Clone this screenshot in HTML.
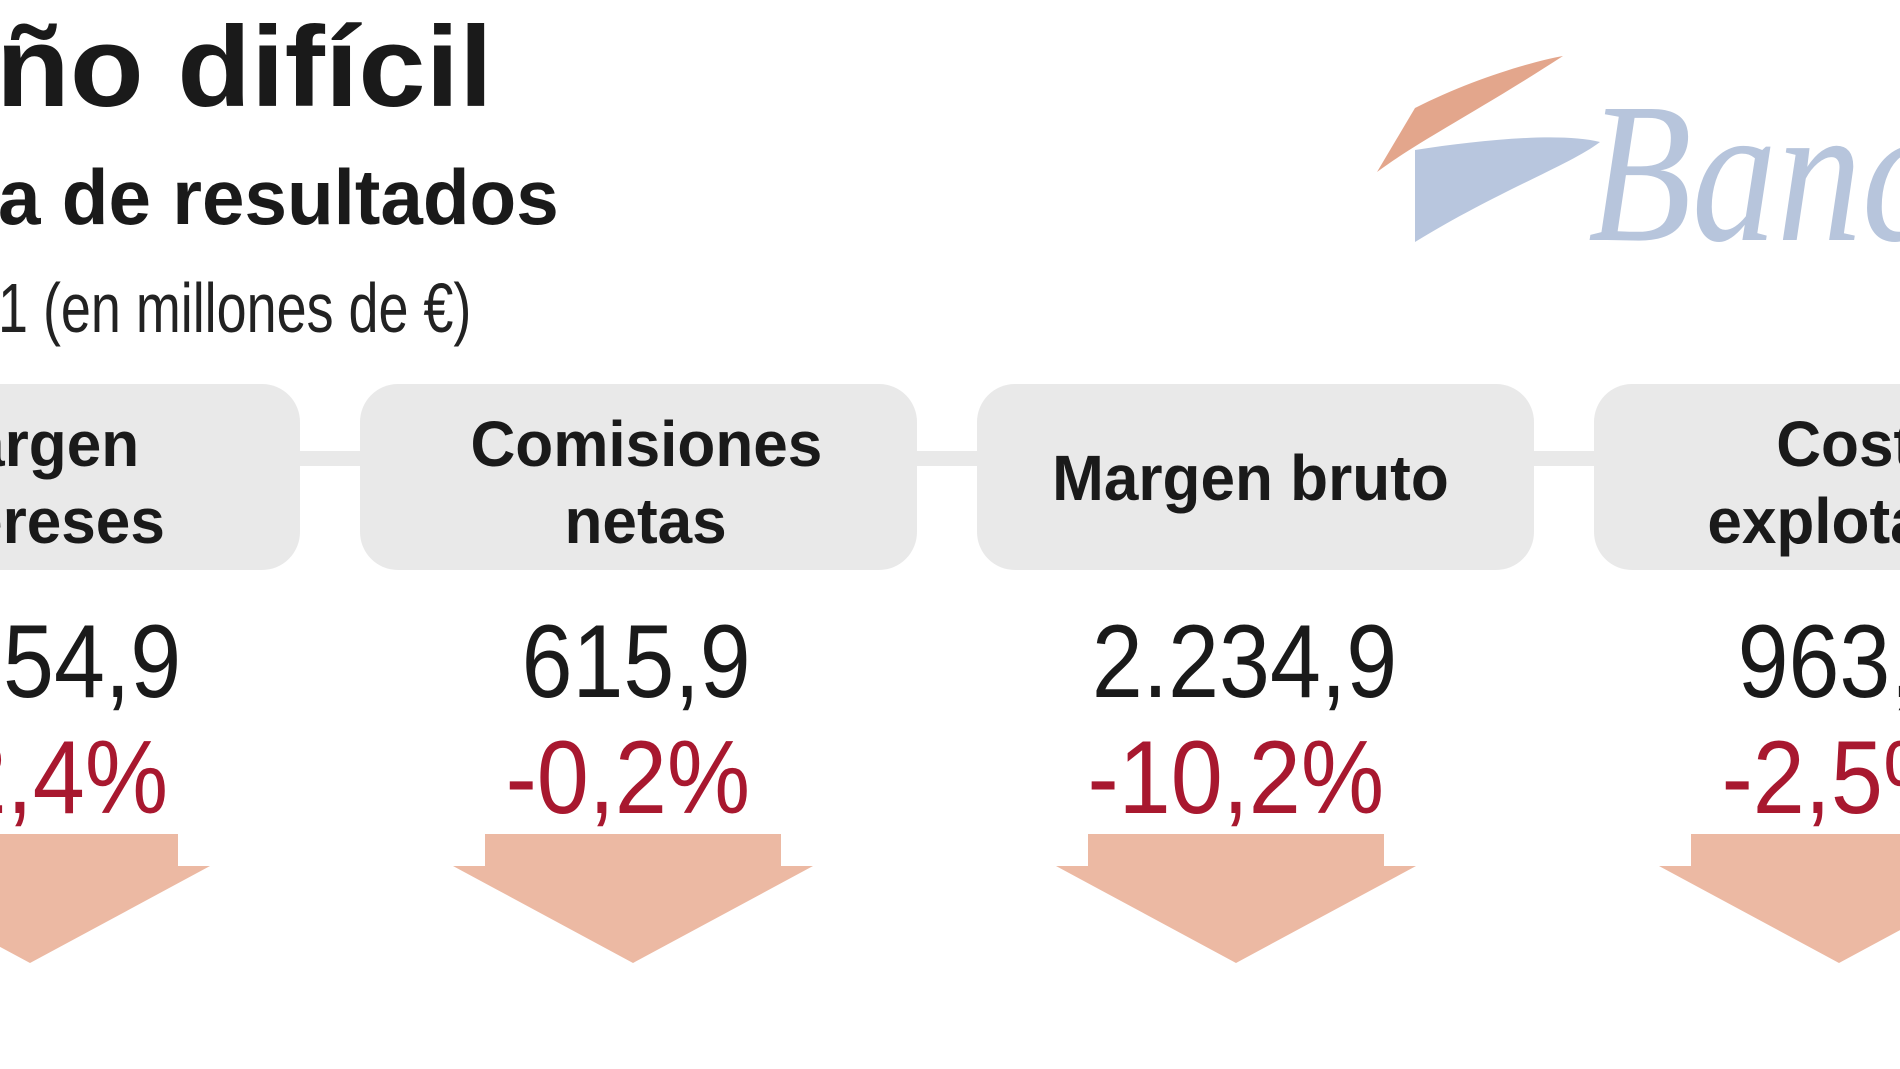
<!DOCTYPE html>
<html><head><meta charset="utf-8">
<style>
html,body{margin:0;padding:0;background:#fff;}
body{width:1900px;height:1069px;position:relative;overflow:hidden;font-family:"Liberation Sans",sans-serif;color:#1a1a1a;}
.t{position:absolute;white-space:nowrap;transform-origin:0 0;}
.c{position:absolute;white-space:nowrap;text-align:center;width:700px;}
.c span{display:inline-block;}
.box{position:absolute;top:384px;height:186px;width:557px;background:#e9e9e9;border-radius:38px;}
.conn{position:absolute;top:451px;height:15px;background:#e9e9e9;}
</style></head><body>
<div class="t" style="left:-4px;top:2px;font-size:114px;font-weight:bold;transform:scaleX(1.06);">ño difícil</div>
<div class="t" style="left:-2px;top:152px;font-size:78px;font-weight:bold;transform:scaleX(0.98);">a de resultados</div>
<div class="t" style="left:-2px;top:268px;font-size:70px;transform:scaleX(0.77);color:#222;">1 (en millones de €)</div>
<svg style="position:absolute;left:0;top:0" width="1900" height="300">
<path d="M1377,172 C1420,140 1480,110 1563,56 C1530,62 1470,80 1415,108 Z" fill="#e3a68c"/>
<path d="M1415,242 L1415,150 C1480,140 1560,132 1600,142 C1570,165 1500,190 1415,242 Z" fill="#b8c6de"/>
<text x="1588" y="240" font-family="Liberation Serif,serif" font-style="italic" font-size="200" fill="#b7c5dc" transform="translate(1588 0) scale(0.85 1) translate(-1588 0)">Banc</text>
</svg>
<div id="chart"></div>
<script>
const labels=[["Margen","intereses"],["Comisiones","netas"],["Margen bruto"],["Costes","explotación"]];
const values=["1.654,9","615,9","2.234,9","963,5"];
const pcts=["-12,4%","-0,2%","-10,2%","-2,5%"];
const chart=document.getElementById('chart');
function boxC(i){return 21+i*617;}
function valC(i){return 636+(i-1)*608;}
function arrC(i){return 633+(i-1)*603;}
labels.forEach((lab,i)=>{
  const c=boxC(i);
  const b=document.createElement('div');b.className='box';b.style.left=(c-278)+'px';
  
  
  chart.appendChild(b);
  if(i<labels.length-1){const k=document.createElement('div');k.className='conn';k.style.left=(c+270)+'px';k.style.width='70px';
  
  
  chart.appendChild(k);}
  lab.forEach((ln,j)=>{
    const t=document.createElement('div');t.className='c';t.style.left=(c-350+(i===2?-5:8))+'px';
    const top=lab.length===1?446:412+j*77;
    t.style.top=top+'px';t.style.fontSize='64px';t.style.fontWeight='bold';t.style.lineHeight='1';
    t.innerHTML='<span style="transform:scaleX(0.97)">'+ln+'</span>';
    
    
    chart.appendChild(t);
  });
  const v=document.createElement('div');v.className='c';v.style.left=(valC(i)-350)+'px';v.style.top='610px';v.style.fontSize='104px';v.style.lineHeight='1';
  v.innerHTML='<span style="transform:scaleX(0.88)">'+values[i]+'</span>';
  
  
  chart.appendChild(v);
  const p=document.createElement('div');p.className='c';p.style.left=(valC(i)-8-350)+'px';p.style.top='726px';p.style.fontSize='104px';p.style.lineHeight='1';p.style.color='#a8182f';
  p.innerHTML='<span style="transform:scaleX(0.9)">'+pcts[i]+'</span>';
  
  
  chart.appendChild(p);
  const s=document.createElementNS('http://www.w3.org/2000/svg','svg');
  s.setAttribute('width','400');s.setAttribute('height','140');
  s.style.position='absolute';s.style.left=(arrC(i)-200)+'px';s.style.top='834px';
  s.innerHTML='<polygon points="52,0 348,0 348,32 380,32 200,129 20,32 52,32" fill="#ecb9a3"/>';
  
  
  chart.appendChild(s);
});
</script>
</body></html>
